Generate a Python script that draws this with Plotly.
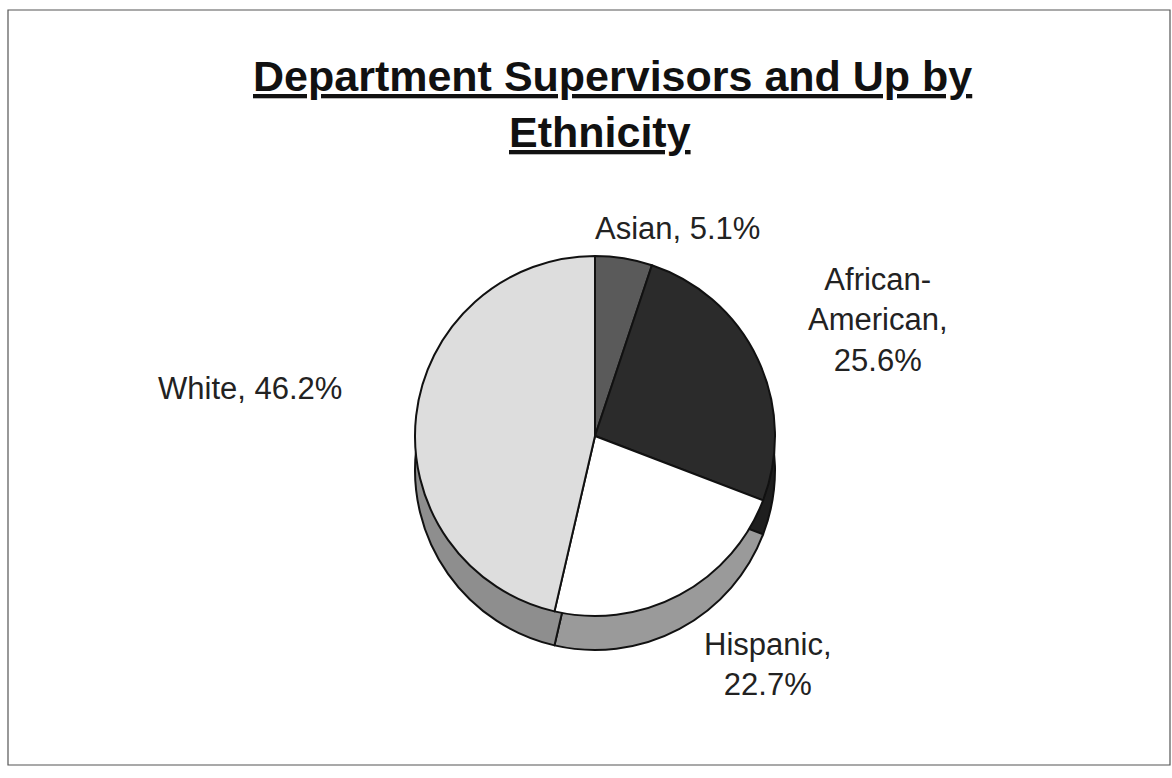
import plotly.graph_objects as go

# ---- data ----
categories = ["Asian", "African-American", "Hispanic", "White"]
shares = [5.1, 25.6, 22.7, 46.2]
label_lines = ["Asian, 5.1%", "African-<br>American,<br>25.6%", "Hispanic,<br>22.7%", "White, 46.2%"]

# ---- styles ----
top_colors = ["#5a5a5a", "#2b2b2b", "#ffffff", "#dddddd"]
side_colors = ["#3a3a3a", "#1e1e1e", "#9a9a9a", "#8e8e8e"]
label_pos = [(677, 228), (878, 320), (768, 664), (250, 388)]  # pixel centers

W, H = 1172, 778
FONT = "Liberation Sans"

def px(x):
    return x / W

def py(y):
    return 1 - y / H

CX, CY, R, DEPTH = 595, 436, 180, 34

fig = go.Figure()

# side wall (depth) pie, shifted down
fig.add_trace(go.Pie(
    labels=categories, values=shares, sort=False, direction="clockwise", rotation=0,
    marker=dict(colors=side_colors, line=dict(color="#111111", width=2)),
    textinfo="none", hoverinfo="skip", showlegend=False,
    domain=dict(x=[px(CX - R), px(CX + R)], y=[py(CY + DEPTH + R), py(CY + DEPTH - R)]),
))

# top face pie
fig.add_trace(go.Pie(
    labels=categories, values=shares, sort=False, direction="clockwise", rotation=0,
    marker=dict(colors=top_colors, line=dict(color="#111111", width=2)),
    textinfo="none", showlegend=False,
    domain=dict(x=[px(CX - R), px(CX + R)], y=[py(CY + R), py(CY - R)]),
))

annotations = [
    dict(text="<b><u>Department Supervisors and Up by</u></b>", x=px(612), y=py(76),
         xref="paper", yref="paper", showarrow=False, xanchor="center", yanchor="middle",
         font=dict(family=FONT, size=43, color="#111111")),
    dict(text="<b><u>Ethnicity</u></b>", x=px(600), y=py(132),
         xref="paper", yref="paper", showarrow=False, xanchor="center", yanchor="middle",
         font=dict(family=FONT, size=43, color="#111111")),
]
for txt, (lx, ly) in zip(label_lines, label_pos):
    annotations.append(dict(
        text=txt, x=px(lx), y=py(ly), xref="paper", yref="paper", showarrow=False,
        xanchor="center", yanchor="middle", align="center",
        font=dict(family=FONT, size=31, color="#222222"),
    ))

fig.update_layout(
    width=W, height=H,
    margin=dict(l=0, r=0, t=0, b=0),
    paper_bgcolor="white", plot_bgcolor="white",
    annotations=annotations,
    shapes=[dict(type="rect", xref="paper", yref="paper",
                 x0=px(8), x1=px(1170), y0=py(765), y1=py(10),
                 line=dict(color="#555555", width=1.2))],
)

fig.write_html("out.html")
